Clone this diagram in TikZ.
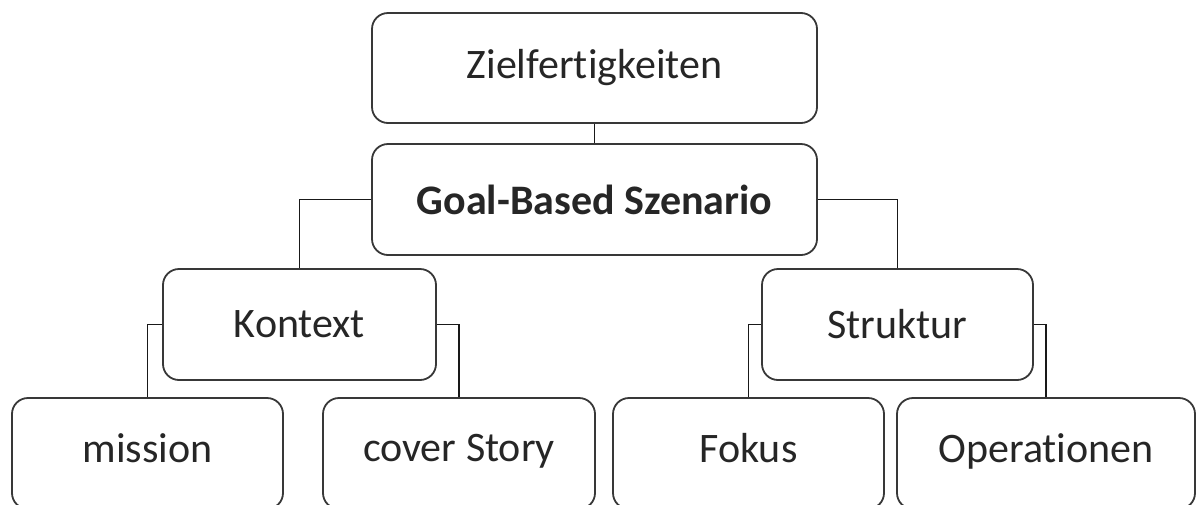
\documentclass[tikz,border=0pt]{standalone}
\usepackage{fontspec}
\setmainfont{Carlito}[Ligatures={NoCommon}]
\begin{document}
\begin{tikzpicture}[x=1pt,y=-1pt,
  box/.style={draw=black!78, line width=1.8pt, rounded corners=16pt, inner sep=0pt,
    font=\fontsize{42}{50}\selectfont, text=black!85},
  conn/.style={draw=black!90, line width=1.8pt}]
\useasboundingbox (0,0) rectangle (1197,504);
\clip (0,0) rectangle (1197,504);
\fill[white] (0,0) rectangle (1197,504);
\node[box, minimum width=445pt, minimum height=110pt] (ziel) at (594.5,68) {\raisebox{3pt}{Zielfertigkeiten}};
\node[box, minimum width=445pt, minimum height=111pt] (goal) at (594.5,199.5) {\bfseries Goal-Based Szenario};
\node[box, minimum width=273pt, minimum height=111pt] (kontext) at (299.5,324.5) {Kontext};
\node[box, minimum width=271pt, minimum height=111pt] (struktur) at (897.5,324.5) {Struktur};
\node[box, minimum width=271pt, minimum height=111pt] (mission) at (147.5,453.5) {\raisebox{11pt}{mission}};
\node[box, minimum width=272pt, minimum height=111pt] (cover) at (459,453.5) {\raisebox{11pt}{cover Story}};
\node[box, minimum width=271pt, minimum height=111pt] (fokus) at (748.5,453.5) {\raisebox{11pt}{Fokus}};
\node[box, minimum width=298pt, minimum height=111pt] (oper) at (1046,453.5) {\raisebox{11pt}{Operationen}};
\draw[conn] (ziel.south) -- (goal.north);
\draw[conn] (goal.west) -| (kontext.north);
\draw[conn] (goal.east) -| (struktur.north);
\draw[conn] (kontext.west) -| (mission.north);
\draw[conn] (kontext.east) -| (cover.north);
\draw[conn] (struktur.west) -| (fokus.north);
\draw[conn] (struktur.east) -| (oper.north);
\end{tikzpicture}
\end{document}
